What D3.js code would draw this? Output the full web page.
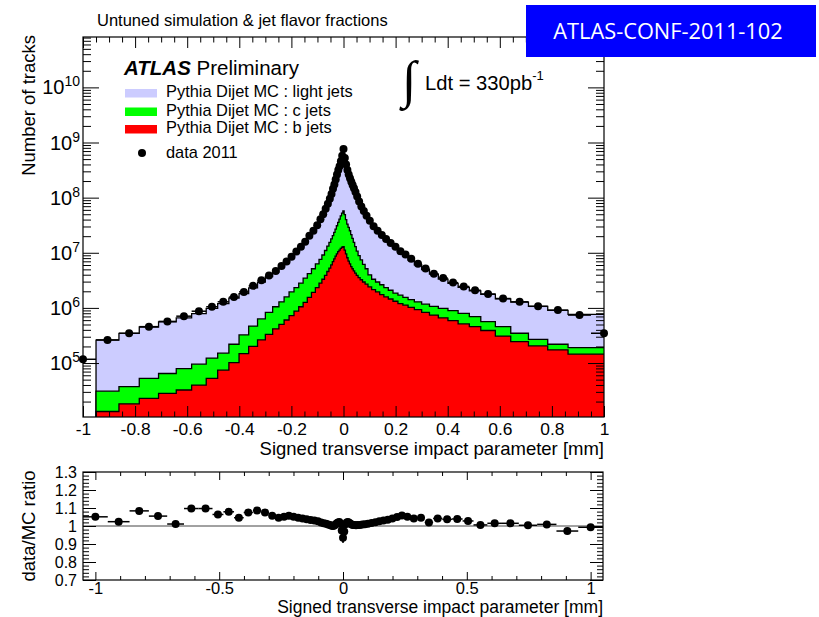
<!DOCTYPE html>
<html>
<head>
<meta charset="utf-8">
<script src="https://cdn.jsdelivr.net/npm/d3@7"></script>
<style>
  body { margin: 0; background: #fff; }
  svg text { font-family: "Liberation Sans", Arial, Helvetica, sans-serif; }
</style>
</head>
<body>
<div id="viz"></div>
<script>
// bin edges of the signed transverse impact parameter [mm]
const binEdges = [-1.05, -0.95, -0.862, -0.784, -0.71, -0.642, -0.583, -0.527, -0.483, -0.44, -0.401, -0.364,
  -0.33, -0.3, -0.272, -0.248, -0.228, -0.209, -0.19, -0.172, -0.155, -0.139, -0.123, -0.108, -0.094,
  -0.083, -0.073, -0.064, -0.056, -0.049, -0.043, -0.0375, -0.0325, -0.0275, -0.0225, -0.0175, -0.0125,
  -0.0075, -0.0025,
  0.0025, 0.0075, 0.0125, 0.0175, 0.0225, 0.0275, 0.0325, 0.0375, 0.043, 0.049, 0.056, 0.064, 0.073, 0.083,
  0.094, 0.108, 0.123, 0.139, 0.155, 0.172, 0.19, 0.209, 0.228, 0.248, 0.272, 0.3, 0.33, 0.364, 0.401, 0.44,
  0.483, 0.527, 0.583, 0.642, 0.71, 0.784, 0.862, 0.95, 1.05];

// data 2011 (number of tracks per bin)
const dataCounts = [1.17e5, 2.63e5, 3.47e5, 4.57e5, 5.69e5, 7.08e5, 8.71e5, 1.05e6, 1.29e6, 1.57e6, 1.95e6,
  2.51e6, 3.16e6, 3.89e6, 4.68e6, 5.75e6, 6.92e6, 8.51e6, 1.05e7, 1.29e7, 1.58e7, 2.04e7, 2.51e7, 3.16e7,
  4.07e7, 5.01e7, 6.31e7, 7.76e7, 9.55e7, 1.17e8, 1.45e8, 1.74e8, 2.14e8, 2.63e8, 3.16e8, 3.72e8, 4.57e8, 5.75e8,
  7.59e8,
  5.25e8, 3.98e8, 3.16e8, 2.63e8, 2.24e8, 1.95e8, 1.70e8, 1.48e8, 1.26e8, 1.05e8, 8.51e7, 6.92e7, 5.75e7, 4.68e7,
  3.80e7, 3.02e7, 2.51e7, 2.09e7, 1.78e7, 1.51e7, 1.29e7, 1.07e7, 9.33e6, 7.76e6, 6.31e6, 5.19e6, 4.17e6,
  3.47e6, 2.88e6, 2.45e6, 2.09e6, 1.78e6, 1.48e6, 1.29e6, 1.07e6, 9.12e5, 7.41e5, 3.47e5];

// Pythia Dijet MC : light + c + b jets
const mcAll = [null, 2.60e5, 3.45e5, 4.50e5, 5.60e5, 6.60e5, 7.90e5, 9.80e5, 1.20e6, 1.50e6, 1.81e6,
  2.31e6, 2.94e6, 3.68e6, 4.47e6, 5.47e6, 6.55e6, 8.10e6, 1.00e7, 1.24e7, 1.52e7, 1.97e7, 2.44e7, 3.08e7,
  3.99e7, 4.94e7, 6.24e7, 7.69e7, 9.50e7, 1.17e8, 1.45e8, 1.73e8, 2.12e8, 2.59e8, 3.10e8, 3.64e8, 4.52e8, 5.90e8,
  8.12e8,
  5.41e8, 3.94e8, 3.10e8, 2.57e8, 2.20e8, 1.93e8, 1.69e8, 1.47e8, 1.25e8, 1.05e8, 8.47e7, 6.88e7, 5.70e7, 4.63e7,
  3.75e7, 2.97e7, 2.46e7, 2.04e7, 1.73e7, 1.46e7, 1.24e7, 1.02e7, 8.82e6, 7.38e6, 6.06e6, 4.96e6, 4.09e6,
  3.33e6, 2.78e6, 2.36e6, 2.03e6, 1.77e6, 1.46e6, 1.27e6, 1.07e6, 9.04e5, 7.62e5, 7.62e5];

// Pythia Dijet MC : c + b jets
const mcCB = [null, 3.09e4, 3.72e4, 5.25e4, 6.46e4, 7.94e4, 9.55e4, 1.23e5, 1.51e5, 2.19e5, 3.24e5,
  4.68e5, 6.31e5, 8.32e5, 1.05e6, 1.29e6, 1.58e6, 1.95e6, 2.34e6, 2.82e6, 3.47e6, 4.17e6, 5.13e6, 6.31e6,
  7.59e6, 9.12e6, 1.10e7, 1.32e7, 1.55e7, 1.78e7, 2.04e7, 2.34e7, 2.69e7, 3.09e7, 3.55e7, 4.07e7, 4.68e7, 5.25e7,
  5.75e7,
  4.90e7, 3.98e7, 3.31e7, 2.88e7, 2.51e7, 2.14e7, 1.82e7, 1.55e7, 1.29e7, 1.07e7, 8.91e6, 7.41e6, 6.17e6, 5.13e6,
  3.98e6, 3.31e6, 2.95e6, 2.63e6, 2.34e6, 2.09e6, 1.86e6, 1.70e6, 1.55e6, 1.41e6, 1.29e6, 1.17e6, 1.07e6,
  9.77e5, 8.91e5, 7.94e5, 6.92e5, 5.62e5, 4.57e5, 3.47e5, 2.69e5, 2.19e5, 1.91e5, 1.91e5];

// Pythia Dijet MC : b jets
const mcB = [null, 1.32e4, 1.82e4, 2.29e4, 2.82e4, 3.24e4, 3.98e4, 5.25e4, 7.41e4, 1.02e5, 1.48e5,
  2.00e5, 2.63e5, 3.31e5, 4.17e5, 5.01e5, 6.03e5, 7.24e5, 8.71e5, 1.05e6, 1.26e6, 1.55e6, 1.91e6, 2.34e6,
  2.82e6, 3.31e6, 3.89e6, 4.57e6, 5.25e6, 6.03e6, 6.92e6, 7.76e6, 8.71e6, 9.55e6, 1.05e7, 1.12e7, 1.20e7, 1.26e7,
  1.29e7,
  1.12e7, 9.55e6, 8.13e6, 7.08e6, 6.31e6, 5.62e6, 5.13e6, 4.68e6, 4.27e6, 3.89e6, 3.55e6, 3.24e6, 2.95e6, 2.69e6,
  2.40e6, 2.14e6, 1.95e6, 1.74e6, 1.58e6, 1.45e6, 1.32e6, 1.20e6, 1.12e6, 1.02e6, 9.33e5, 8.32e5, 7.41e5,
  6.61e5, 5.89e5, 5.13e5, 4.57e5, 3.89e5, 3.09e5, 2.45e5, 2.04e5, 1.74e5, 1.45e5, 1.45e5];

// data / MC ratio and its error
const ratio = [1.051, 1.024, 1.084, 1.055, 1.011, 1.097, 1.097, 1.064, 1.079, 1.046, 1.075, 1.086, 1.075,
  1.057, 1.046, 1.051, 1.057, 1.051, 1.046, 1.042, 1.037, 1.033, 1.030, 1.026,
  1.019, 1.015, 1.012, 1.009, 1.005, 1.002, 1.000, 1.003, 1.008, 1.015, 1.020, 1.022, 1.012, 0.975,
  0.935,
  0.970, 1.010, 1.020, 1.022, 1.018, 1.012, 1.008, 1.006, 1.005, 1.004, 1.005, 1.006, 1.008, 1.010,
  1.013, 1.017, 1.021, 1.026, 1.030, 1.035, 1.042, 1.050, 1.058, 1.052, 1.042, 1.046, 1.020, 1.042, 1.037,
  1.039, 1.028, 1.006, 1.015, 1.015, 1.004, 1.009, 0.972, 0.993];
const ratioErr = [0.01, 0.01, 0.01, 0.01, 0.008, 0.008, 0.008, 0.006, 0.006, 0.005, 0.005, 0.005, 0.004,
  0.004, 0.004, 0.004, 0.004, 0.004, 0.004, 0.004, 0.004, 0.004, 0.004, 0.004,
  0.004, 0.004, 0.004, 0.004, 0.004, 0.004, 0.004, 0.004, 0.004, 0.004, 0.004, 0.004, 0.006, 0.015,
  0.028,
  0.015, 0.006, 0.004, 0.004, 0.004, 0.004, 0.004, 0.004, 0.004, 0.004, 0.004, 0.004, 0.004, 0.004,
  0.004, 0.004, 0.004, 0.004, 0.004, 0.004, 0.004, 0.004, 0.004, 0.004, 0.004, 0.004, 0.004, 0.004, 0.005,
  0.005, 0.005, 0.006, 0.006, 0.006, 0.008, 0.008, 0.01, 0.01];

const legendLabels = ['Pythia Dijet MC : light jets', 'Pythia Dijet MC : c jets', 'Pythia Dijet MC : b jets'];
const legendColors = ['#ccccff', '#00ff00', '#ff0000'];

const bins = dataCounts.map((v, i) => ({
  x0: binEdges[i], x1: binEdges[i + 1], xc: (binEdges[i] + binEdges[i + 1]) / 2,
  data: v, all: mcAll[i], cb: mcCB[i], b: mcB[i], r: ratio[i], re: ratioErr[i]
}));

const svg = d3.select('#viz').append('svg')
  .attr('width', 819).attr('height', 617);

const tickFmt = d => String(+d.toFixed(2));

// ---------- main plot ----------
const X0 = 83, X1 = 604, Y0 = 37, Y1 = 417;
const x = d3.scaleLinear().domain([-1, 1]).range([X0, X1]);
const y = d3.scaleLog().domain([1.05e4, 8.2e10]).range([Y1, Y0]);

svg.append('clipPath').attr('id', 'clipMain')
  .append('rect').attr('x', X0).attr('y', Y0).attr('width', X1 - X0).attr('height', Y1 - Y0);

const floorV = y.domain()[0];
function stepPts(key) {
  const pts = [];
  bins.forEach(d => { if (d[key] != null) pts.push([d.x0, d[key]], [d.x1, d[key]]); });
  return [[pts[0][0], floorV], ...pts, [pts[pts.length - 1][0], floorV]];
}
const histArea = d3.area().x(p => x(p[0])).y0(Y1).y1(p => y(p[1]));
const histLine = d3.line().x(p => x(p[0])).y(p => y(p[1]));

const hg = svg.append('g').attr('clip-path', 'url(#clipMain)');
[['all', legendColors[0]], ['cb', legendColors[1]], ['b', legendColors[2]]].forEach(([key, col]) => {
  const pts = stepPts(key);
  hg.append('path').attr('d', histArea(pts)).attr('fill', col);
  hg.append('path').attr('d', histLine(pts)).attr('fill', 'none')
    .attr('stroke', '#000').attr('stroke-width', 1.3);
});

// data error bars + markers
hg.selectAll('line.xerr').data(bins).join('line')
  .attr('class', 'xerr')
  .attr('x1', d => x(d.x0)).attr('x2', d => x(d.x1))
  .attr('y1', d => y(d.data)).attr('y2', d => y(d.data))
  .attr('stroke', '#000').attr('stroke-width', 1.5);
svg.append('g').selectAll('circle').data(bins).join('circle')
  .attr('cx', d => x(d.xc)).attr('cy', d => y(d.data)).attr('r', 4)
  .attr('fill', '#000');

// axes of main plot
const xMaj = d3.range(-1, 1.0001, 0.2).map(v => +v.toFixed(2));
const xMin = d3.range(-1, 1.0001, 0.05).map(v => +v.toFixed(2))
  .filter(v => !xMaj.some(m => Math.abs(m - v) < 1e-6));
const yMaj = [1e5, 1e6, 1e7, 1e8, 1e9, 1e10];
const yMin = [];
for (let n = 4; n <= 10; n++) for (let k = 2; k <= 9; k++) {
  const v = k * Math.pow(10, n);
  if (v > y.domain()[0] && v < y.domain()[1]) yMin.push(v);
}

function addAxis(axis, tr, fontSize) {
  const g = svg.append('g').attr('transform', tr).call(axis);
  g.select('.domain').remove();
  g.attr('font-size', fontSize || 10).attr('font-family', null);
  return g;
}
addAxis(d3.axisBottom(x).tickValues(xMin).tickSizeInner(-5.5).tickSizeOuter(0).tickFormat(''), `translate(0,${Y1})`);
addAxis(d3.axisBottom(x).tickValues(xMaj).tickSizeInner(-11).tickSizeOuter(0).tickPadding(6).tickFormat(tickFmt), `translate(0,${Y1})`, 17.4);
addAxis(d3.axisTop(x).tickValues(xMin).tickSizeInner(-5.5).tickSizeOuter(0).tickFormat(''), `translate(0,${Y0})`);
addAxis(d3.axisTop(x).tickValues(xMaj).tickSizeInner(-11).tickSizeOuter(0).tickFormat(''), `translate(0,${Y0})`);
addAxis(d3.axisLeft(y).tickValues(yMin).tickSizeInner(-8).tickSizeOuter(0).tickFormat(''), `translate(${X0},0)`);
addAxis(d3.axisLeft(y).tickValues(yMaj).tickSizeInner(-16).tickSizeOuter(0).tickFormat(''), `translate(${X0},0)`);
addAxis(d3.axisRight(y).tickValues(yMin).tickSizeInner(-8).tickSizeOuter(0).tickFormat(''), `translate(${X1},0)`);
addAxis(d3.axisRight(y).tickValues(yMaj).tickSizeInner(-16).tickSizeOuter(0).tickFormat(''), `translate(${X1},0)`);

svg.append('g').selectAll('text').data(yMaj).join('text')
  .attr('x', X0 - 3).attr('y', d => y(d) + 7).attr('text-anchor', 'end')
  .each(function (d) {
    const t = d3.select(this);
    t.append('tspan').attr('font-size', 20).text('10');
    t.append('tspan').attr('font-size', 14).attr('dy', -8).text(Math.round(Math.log10(d)));
  });

svg.append('rect').attr('x', X0).attr('y', Y0).attr('width', X1 - X0).attr('height', Y1 - Y0)
  .attr('fill', 'none').attr('stroke', '#000').attr('stroke-width', 1.2);

svg.append('text').attr('x', X1).attr('y', 454.5).attr('text-anchor', 'end')
  .attr('font-size', 18.5).text('Signed transverse impact parameter [mm]');
svg.append('text').attr('transform', 'translate(35,35) rotate(-90)').attr('text-anchor', 'end')
  .attr('font-size', 18.5).text('Number of tracks');

// title, ATLAS label, legend
svg.append('text').attr('x', 97).attr('y', 26).attr('font-size', 16.5)
  .text('Untuned simulation & jet flavor fractions');

const atl = svg.append('text').attr('x', 124).attr('y', 75).attr('font-size', 20.5);
atl.append('tspan').attr('font-weight', 'bold').attr('font-style', 'italic').text('ATLAS');
atl.append('tspan').text(' Preliminary');

const legY = [97, 115.5, 133];
legendLabels.forEach((lab, i) => {
  svg.append('rect').attr('x', 125).attr('y', legY[i] - 8).attr('width', 32).attr('height', 8.5)
    .attr('fill', legendColors[i]);
  svg.append('text').attr('x', 166).attr('y', legY[i]).attr('font-size', 16.4).text(lab);
});
svg.append('circle').attr('cx', 142).attr('cy', 153).attr('r', 4).attr('fill', '#000');
svg.append('text').attr('x', 166).attr('y', 158).attr('font-size', 16.4).text('data 2011');

svg.append('text').attr('x', 402).attr('y', 97).attr('font-size', 52)
  .style('font-family', '"DejaVu Sans"').style('font-weight', 'lighter').text('∫');
const lum = svg.append('text').attr('x', 425).attr('y', 90).attr('font-size', 20.2);
lum.append('tspan').text('Ldt = 330pb');
lum.append('tspan').attr('font-size', 13).attr('dy', -10).text('-1');

// conference note tag
svg.append('rect').attr('x', 526).attr('y', 5).attr('width', 290).attr('height', 52).attr('fill', '#0000ff');
svg.append('text').attr('x', 668).attr('y', 38.5).attr('text-anchor', 'middle')
  .style('font-family', '"Open Sans", sans-serif').attr('font-size', 21.8).attr('fill', '#fff')
  .text('ATLAS-CONF-2011-102');

// ---------- ratio plot ----------
const RX0 = 83, RX1 = 603, RY0 = 472, RY1 = 580;
const xr = d3.scaleLinear().domain([-1.05, 1.05]).range([RX0, RX1]);
const yr = d3.scaleLinear().domain([0.7, 1.3]).range([RY1, RY0]);

svg.append('clipPath').attr('id', 'clipRatio')
  .append('rect').attr('x', RX0).attr('y', RY0).attr('width', RX1 - RX0).attr('height', RY1 - RY0);

svg.append('line').attr('x1', RX0).attr('x2', RX1).attr('y1', yr(1)).attr('y2', yr(1))
  .attr('stroke', '#444').attr('stroke-width', 1);

const rg = svg.append('g').attr('clip-path', 'url(#clipRatio)');
rg.selectAll('line.rx').data(bins).join('line').attr('class', 'rx')
  .attr('x1', d => xr(d.x0)).attr('x2', d => xr(d.x1))
  .attr('y1', d => yr(d.r)).attr('y2', d => yr(d.r))
  .attr('stroke', '#000').attr('stroke-width', 1.5);
rg.selectAll('line.ry').data(bins).join('line').attr('class', 'ry')
  .attr('x1', d => xr(d.xc)).attr('x2', d => xr(d.xc))
  .attr('y1', d => yr(d.r - d.re)).attr('y2', d => yr(d.r + d.re))
  .attr('stroke', '#000').attr('stroke-width', 2);
svg.append('g').selectAll('circle').data(bins).join('circle')
  .attr('cx', d => xr(d.xc)).attr('cy', d => yr(d.r)).attr('r', 4).attr('fill', '#000');

const rxMaj = [-1, -0.5, 0, 0.5, 1];
const rxMin = d3.range(-1, 1.0001, 0.1).map(v => +v.toFixed(2))
  .filter(v => !rxMaj.some(m => Math.abs(m - v) < 1e-6));
const ryMaj = d3.range(0.7, 1.3001, 0.1).map(v => +v.toFixed(2));
const ryMin = d3.range(0.7, 1.3001, 0.02).map(v => +v.toFixed(2))
  .filter(v => !ryMaj.some(m => Math.abs(m - v) < 1e-6));

addAxis(d3.axisBottom(xr).tickValues(rxMin).tickSizeInner(-4).tickSizeOuter(0).tickFormat(''), `translate(0,${RY1})`);
addAxis(d3.axisBottom(xr).tickValues(rxMaj).tickSizeInner(-8).tickSizeOuter(0).tickPadding(2).tickFormat(tickFmt), `translate(0,${RY1})`, 16.5);
addAxis(d3.axisTop(xr).tickValues(rxMin).tickSizeInner(-4).tickSizeOuter(0).tickFormat(''), `translate(0,${RY0})`);
addAxis(d3.axisTop(xr).tickValues(rxMaj).tickSizeInner(-8).tickSizeOuter(0).tickFormat(''), `translate(0,${RY0})`);
addAxis(d3.axisLeft(yr).tickValues(ryMin).tickSizeInner(-6).tickSizeOuter(0).tickFormat(''), `translate(${RX0},0)`);
addAxis(d3.axisLeft(yr).tickValues(ryMaj).tickSizeInner(-13).tickSizeOuter(0).tickPadding(6).tickFormat(tickFmt), `translate(${RX0},0)`, 16);
addAxis(d3.axisRight(yr).tickValues(ryMin).tickSizeInner(-6).tickSizeOuter(0).tickFormat(''), `translate(${RX1},0)`);
addAxis(d3.axisRight(yr).tickValues(ryMaj).tickSizeInner(-13).tickSizeOuter(0).tickFormat(''), `translate(${RX1},0)`);

svg.append('rect').attr('x', RX0).attr('y', RY0).attr('width', RX1 - RX0).attr('height', RY1 - RY0)
  .attr('fill', 'none').attr('stroke', '#000').attr('stroke-width', 1.2);

svg.append('text').attr('x', RX1).attr('y', 612.5).attr('text-anchor', 'end')
  .attr('font-size', 17.5).text('Signed transverse impact parameter [mm]');
svg.append('text').attr('transform', `translate(35,${(RY0 + RY1) / 2}) rotate(-90)`).attr('text-anchor', 'middle')
  .attr('font-size', 18.5).text('data/MC ratio');
</script>
</body>
</html>
